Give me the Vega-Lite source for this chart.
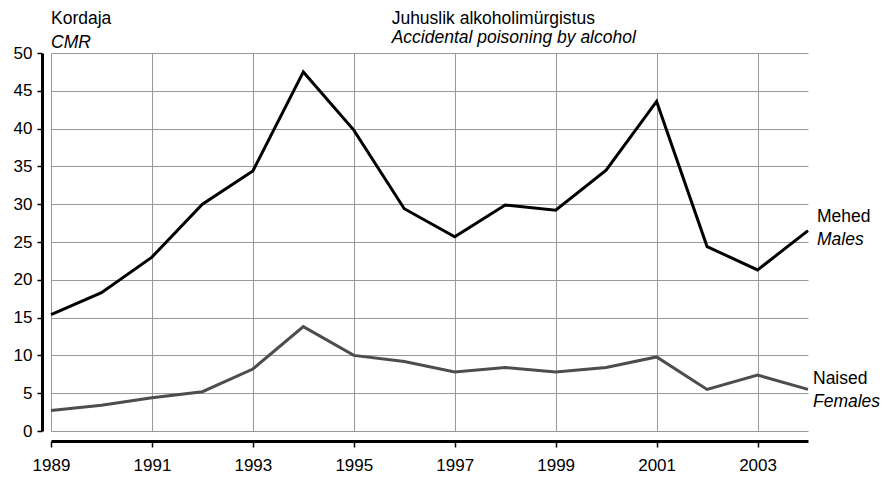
{
  "$schema": "https://vega.github.io/schema/vega-lite/v6.json",
  "width": 757,
  "height": 378,
  "autosize": "none",
  "padding": {"left": 51, "top": 53, "right": 85, "bottom": 46},
  "background": "white",
  "config": {
    "view": {"stroke": null},
    "font": "Liberation Sans",
    "axis": {"labelFont": "Liberation Sans", "labelFontSize": 17, "labelColor": "#000"},
    "text": {"font": "Liberation Sans", "fontSize": 17.5, "color": "#000", "align": "left", "baseline": "alphabetic"}
  },
  "datasets": {
    "rates": [
      {"year": 1989, "series": "Males", "value": 15.4},
      {"year": 1990, "series": "Males", "value": 18.3},
      {"year": 1991, "series": "Males", "value": 23.0},
      {"year": 1992, "series": "Males", "value": 30.0},
      {"year": 1993, "series": "Males", "value": 34.4},
      {"year": 1994, "series": "Males", "value": 47.5},
      {"year": 1995, "series": "Males", "value": 39.8},
      {"year": 1996, "series": "Males", "value": 29.4},
      {"year": 1997, "series": "Males", "value": 25.7},
      {"year": 1998, "series": "Males", "value": 29.9},
      {"year": 1999, "series": "Males", "value": 29.2},
      {"year": 2000, "series": "Males", "value": 34.5},
      {"year": 2001, "series": "Males", "value": 43.6},
      {"year": 2002, "series": "Males", "value": 24.4},
      {"year": 2003, "series": "Males", "value": 21.3},
      {"year": 2004, "series": "Males", "value": 26.5},
      {"year": 1989, "series": "Females", "value": 2.7},
      {"year": 1990, "series": "Females", "value": 3.4},
      {"year": 1991, "series": "Females", "value": 4.4},
      {"year": 1992, "series": "Females", "value": 5.2},
      {"year": 1993, "series": "Females", "value": 8.2},
      {"year": 1994, "series": "Females", "value": 13.8},
      {"year": 1995, "series": "Females", "value": 10.0},
      {"year": 1996, "series": "Females", "value": 9.2},
      {"year": 1997, "series": "Females", "value": 7.8},
      {"year": 1998, "series": "Females", "value": 8.4},
      {"year": 1999, "series": "Females", "value": 7.8},
      {"year": 2000, "series": "Females", "value": 8.4},
      {"year": 2001, "series": "Females", "value": 9.8},
      {"year": 2002, "series": "Females", "value": 5.5},
      {"year": 2003, "series": "Females", "value": 7.4},
      {"year": 2004, "series": "Females", "value": 5.5}
    ],
    "labels": [
      {"key": "k1", "t": "Kordaja", "year": 1989, "value": 50},
      {"key": "k2", "t": "CMR", "year": 1989, "value": 50},
      {"key": "h1", "t": "Juhuslik alkoholimürgistus", "year": 1995.75, "value": 50},
      {"key": "h2", "t": "Accidental poisoning by alcohol", "year": 1995.75, "value": 50},
      {"key": "m1", "t": "Mehed", "year": 2004, "value": 26.5},
      {"key": "m2", "t": "Males", "year": 2004, "value": 26.5},
      {"key": "f1", "t": "Naised", "year": 2004, "value": 5.5},
      {"key": "f2", "t": "Females", "year": 2004, "value": 5.5}
    ]
  },
  "encoding": {
    "x": {
      "field": "year", "type": "quantitative",
      "scale": {"domain": [1989, 2004], "nice": false, "zero": false},
      "axis": {
        "title": null, "values": [1989, 1991, 1993, 1995, 1997, 1999, 2001, 2003],
        "format": "d", "offset": 10, "domainColor": "#000", "domainWidth": 3,
        "tickColor": "#000", "tickWidth": 1.5, "tickSize": 6, "labelPadding": 10,
        "labelDx": 4,
        "grid": true, "gridColor": "#999", "gridWidth": 1, "labelFlush": false
      }
    },
    "y": {
      "field": "value", "type": "quantitative",
      "scale": {"domain": [0, 50], "nice": false},
      "axis": {
        "title": null, "values": [0, 5, 10, 15, 20, 25, 30, 35, 40, 45, 50],
        "offset": 9, "domainColor": "#000", "domainWidth": 3,
        "tickColor": "#000", "tickWidth": 1.5, "tickSize": 5, "labelPadding": 5,
        "grid": true, "gridColor": "#999", "gridWidth": 1
      }
    }
  },
  "layer": [
    {
      "data": {"name": "rates"},
      "mark": {"type": "line", "strokeWidth": 3, "strokeJoin": "miter"},
      "encoding": {
        "color": {
          "field": "series", "type": "nominal",
          "scale": {"domain": ["Males", "Females"], "range": ["#000000", "#4d4d4d"]},
          "legend": null
        }
      }
    },
    {
      "data": {"name": "labels"},
      "transform": [{"filter": "datum.key == 'k1' || datum.key == 'h1'"}],
      "mark": {"type": "text", "dy": -29},
      "encoding": {"text": {"field": "t"}}
    },
    {
      "data": {"name": "labels"},
      "transform": [{"filter": "datum.key == 'k2'"}],
      "mark": {"type": "text", "dy": -5, "fontStyle": "italic"},
      "encoding": {"text": {"field": "t"}}
    },
    {
      "data": {"name": "labels"},
      "transform": [{"filter": "datum.key == 'h2'"}],
      "mark": {"type": "text", "dy": -10, "fontStyle": "italic"},
      "encoding": {"text": {"field": "t"}}
    },
    {
      "data": {"name": "labels"},
      "transform": [{"filter": "datum.key == 'm1'"}],
      "mark": {"type": "text", "dx": 9, "dy": -9},
      "encoding": {"text": {"field": "t"}}
    },
    {
      "data": {"name": "labels"},
      "transform": [{"filter": "datum.key == 'm2'"}],
      "mark": {"type": "text", "dx": 9, "dy": 14, "fontStyle": "italic"},
      "encoding": {"text": {"field": "t"}}
    },
    {
      "data": {"name": "labels"},
      "transform": [{"filter": "datum.key == 'f1'"}],
      "mark": {"type": "text", "dx": 5, "dy": -5},
      "encoding": {"text": {"field": "t"}}
    },
    {
      "data": {"name": "labels"},
      "transform": [{"filter": "datum.key == 'f2'"}],
      "mark": {"type": "text", "dx": 5, "dy": 18, "fontStyle": "italic"},
      "encoding": {"text": {"field": "t"}}
    }
  ]
}
